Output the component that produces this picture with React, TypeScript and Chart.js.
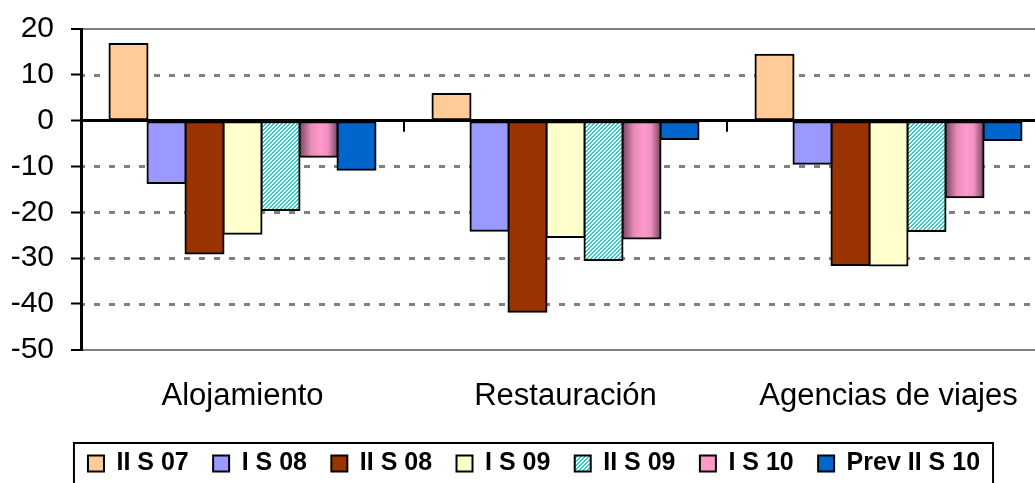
import React, { useEffect, useRef } from "react";
import { Chart, registerables } from "chart.js";

Chart.register(...registerables);

const categories = ["Alojamiento", "Restauración", "Agencias de viajes"];
const seriesLabels = ["II S 07", "I S 08", "II S 08", "I S 09", "II S 09", "I S 10", "Prev II S 10"];
const iiS07 = [16.7, 5.8, 14.4];
const iS08 = [-13.6, -24.0, -9.4];
const iiS08 = [-29.0, -41.7, -31.5];
const iS09 = [-24.7, -25.4, -31.6];
const iiS09 = [-19.5, -30.4, -24.1];
const iS10 = [-7.9, -25.7, -16.7];
const prevIiS10 = [-10.7, -4.0, -4.2];
const yTicks = [-50, -40, -30, -20, -10, 0, 10, 20];

const FONT = "'Liberation Sans', Arial, sans-serif";
const PINK = "#FF99CC";

export default function App() {
  const ref = useRef<HTMLCanvasElement | null>(null);

  useEffect(() => {
    const canvas = ref.current;
    if (!canvas) return;
    const ctx2d = canvas.getContext("2d")!;

    // hatch pattern for "II S 09"
    const tile = document.createElement("canvas");
    tile.width = 4;
    tile.height = 4;
    const tc = tile.getContext("2d")!;
    tc.fillStyle = "#ffffff";
    tc.fillRect(0, 0, 4, 4);
    tc.fillStyle = "#33CCCC";
    for (let x = 0; x < 4; x++) {
      for (let y = 0; y < 4; y++) {
        if ((x + y) % 4 < 2) tc.fillRect(x, y, 1, 1);
      }
    }
    const hatch = ctx2d.createPattern(tile, "repeat") as any;

    const seriesData = [iiS07, iS08, iiS08, iS09, iiS09, iS10, prevIiS10];
    const colors: any[] = ["#FFCC99", "#9999FF", "#993300", "#FFFFCC", hatch, (c: any) => PINK, "#0066CC"];

    const isEdge = (v: number) => v === 20 || v === -50;

    const legendShift = {
      id: "legendShift",
      afterLayout(chart: any) {
        const lg = chart.legend;
        if (lg) {
          lg.left = 18;
          lg.width = lg.right - lg.left;
        }
      },
    };

    const dashedGrid = {
      id: "dashedGrid",
      beforeDatasetsDraw(chart: any) {
        const ys = chart.scales.y;
        const area = chart.chartArea;
        const ctx = chart.ctx;
        ctx.save();
        ctx.strokeStyle = "#808080";
        ctx.lineWidth = 3;
        ctx.setLineDash([6, 9]);
        ctx.lineDashOffset = 4;
        yTicks.forEach((v) => {
          if (v === 0 || isEdge(v)) return;
          const y = Math.round(ys.getPixelForValue(v)) + 0.5;
          ctx.beginPath();
          ctx.moveTo(area.left + 2, y);
          ctx.lineTo(area.right, y);
          ctx.stroke();
        });
        ctx.restore();
      },
    };

    const pinkPlugin = {
      id: "pinkGradient",
      beforeDatasetsDraw(chart: any) {
        const meta = chart.getDatasetMeta(5);
        const ctx = chart.ctx;
        meta.data.forEach((el: any) => {
          const l = el.x - el.width / 2;
          const r = el.x + el.width / 2;
          const g = ctx.createLinearGradient(l, 0, r, 0);
          g.addColorStop(0, "#7a4660");
          g.addColorStop(0.3, "#e58cb8");
          g.addColorStop(0.55, "#ff9acc");
          g.addColorStop(0.75, "#ee90c0");
          g.addColorStop(1, "#7a4660");
          if (el.options) el.options.backgroundColor = g;
        });
      },
    };

    const zeroTicks = {
      id: "zeroTicks",
      afterDatasetsDraw(chart: any) {
        const xs = chart.scales.x;
        const ys = chart.scales.y;
        const ctx = chart.ctx;
        const y0 = ys.getPixelForValue(0);
        const c0 = xs.getPixelForValue(0);
        const c1 = xs.getPixelForValue(1);
        const half = (c1 - c0) / 2;
        ctx.save();
        ctx.strokeStyle = "#000";
        ctx.lineWidth = 2;
        for (let i = 1; i <= categories.length; i++) {
          const x = Math.round(c0 - half + i * 2 * half);
          ctx.beginPath();
          ctx.moveTo(x, y0);
          ctx.lineTo(x, y0 + 11);
          ctx.stroke();
        }
        ctx.restore();
      },
    };

    const legendBorder = {
      id: "legendBorder",
      afterDraw(chart: any) {
        const lg = chart.legend;
        if (!lg || !lg.legendHitBoxes || !lg.legendHitBoxes.length) return;
        const hb = lg.legendHitBoxes;
        const first = hb[0];
        const last = hb[hb.length - 1];
        const left = first.left - 14;
        const right = last.left + last.width + 13;
        const top = first.top - 8;
        const ctx = chart.ctx;
        ctx.save();
        ctx.strokeStyle = "#000";
        ctx.lineWidth = 2;
        ctx.strokeRect(left, top, right - left, 42);
        ctx.restore();
      },
    };

    const chart = new Chart(canvas, {
      type: "bar",
      data: {
        labels: categories,
        datasets: seriesLabels.map((label, i) => ({
          label,
          data: seriesData[i],
          backgroundColor: colors[i],
          borderColor: "#000",
          borderWidth: 2,
          borderSkipped: false,
          inflateAmount: 1,
          categoryPercentage: 266 / 323,
          barPercentage: 1,
        })) as any,
      },
      options: {
        responsive: false,
        animation: false,
        layout: { padding: { top: 29, left: 0, right: 0, bottom: 0 } },
        scales: {
          x: {
            type: "category",
            grid: { display: false, drawTicks: false },
            border: { display: false },
            ticks: {
              font: { family: FONT, size: 31 },
              color: "#000",
              padding: 28,
              maxRotation: 0,
              autoSkip: false,
            },
            afterFit: (s: any) => {
              s.height = 76.8;
            },
          } as any,
          y: {
            min: -50,
            max: 20,
            afterBuildTicks: (s: any) => {
              s.ticks = yTicks.map((v) => ({ value: v }));
            },
            afterFit: (s: any) => {
              s.width = 81;
              s.paddingTop = 0;
              s.paddingBottom = 0;
            },
            grid: {
              color: (c: any) =>
                c.tick && c.tick.value === 0
                  ? "#000"
                  : c.tick && isEdge(c.tick.value)
                  ? "#808080"
                  : "rgba(0,0,0,0)",
              lineWidth: (c: any) => (c.tick && isEdge(c.tick.value) ? 2 : 3),
              drawTicks: true,
              tickLength: 10,
              tickColor: "#000",
              tickWidth: 2,
              tickBorderDash: [],
            },
            border: { display: true, color: "#000", width: 3 },
            ticks: {
              font: { family: FONT, size: 30 },
              color: "#000",
              padding: 17,
            },
          } as any,
        },
        plugins: {
          tooltip: { enabled: false },
          legend: {
            position: "bottom",
            labels: {
              font: { family: FONT, size: 25, weight: "bold" },
              color: "#000",
              boxWidth: 16,
              boxHeight: 16,
              padding: 24.4,
            },
          },
        },
      } as any,
      plugins: [legendShift, dashedGrid, pinkPlugin, zeroTicks, legendBorder],
    });

    return () => chart.destroy();
  }, []);

  return (
    <div
      style={{
        position: "fixed",
        left: 0,
        top: 0,
        width: 1035,
        height: 483,
        overflow: "hidden",
        background: "#fff",
      }}
    >
      <canvas ref={ref} width={1050} height={486} style={{ display: "block" }} />
    </div>
  );
}
